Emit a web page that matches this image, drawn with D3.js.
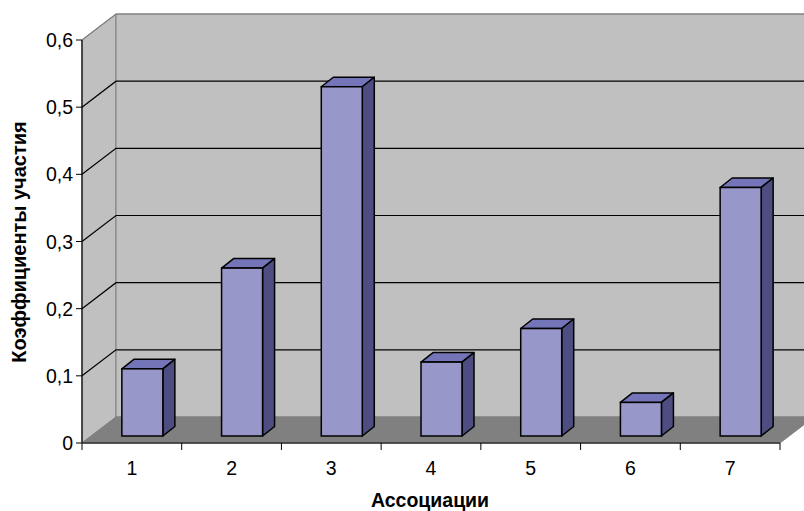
<!DOCTYPE html>
<html><head><meta charset="utf-8">
<script src="https://cdn.jsdelivr.net/npm/d3@7"></script>
<style>body{margin:0;background:#fff}svg{display:block}text{font-family:"Liberation Sans",Arial,sans-serif}</style>
</head><body>
<svg id="c" width="804" height="511"></svg>
<script>
const categories = ["1","2","3","4","5","6","7"];
const values = [0.10, 0.25, 0.52, 0.11, 0.16, 0.05, 0.37];
const yTicks = [0, 0.1, 0.2, 0.3, 0.4, 0.5, 0.6];
const yTickLabels = ["0","0,1","0,2","0,3","0,4","0,5","0,6"];
const xTitle = "Ассоциации";
const yTitle = "Коэффициенты участия";

const svg = d3.select("#c");
const x0 = 82, x1 = 780, yTop = 40, yBase = 443;
const DX = 34, DY = -26;           // wall depth
const y = d3.scaleLinear().domain([0, 0.6]).range([yBase, yTop]);
const x = d3.scaleBand().domain(categories).range([x0, x1]).paddingInner(0).paddingOuter(0);
const bw = x.bandwidth();
const barW = 41, bOff = {dx:10.5, dy:-7}, bDep = {dx:12, dy:-9.5};

// walls
svg.append("polygon").attr("points",[[x0,yTop],[x0+DX,yTop+DY],[x0+DX,yBase+DY],[x0,yBase]].join(" "))
  .attr("fill","#c0c0c0").attr("stroke","#808080");
svg.append("polygon").attr("points",[[x0+DX,yTop+DY],[x1+DX,yTop+DY],[x1+DX,yBase+DY],[x0+DX,yBase+DY]].join(" "))
  .attr("fill","#c0c0c0").attr("stroke","#808080");
svg.append("polygon").attr("points",[[x0,yBase],[x0+DX,yBase+DY],[x1+DX,yBase+DY],[x1,yBase]].join(" "))
  .attr("fill","#808080").attr("stroke","#808080");

// gridlines
yTicks.filter(t=>t>0).forEach(t=>{
  const yy = y(t);
  const col = t===0.6 ? "#808080" : "#000";
  svg.append("polyline").attr("points",[[x0,yy],[x0+DX,yy+DY],[x1+DX,yy+DY]].join(" "))
    .attr("fill","none").attr("stroke",col).attr("stroke-width",1.2);
});

// bars
const g = svg.append("g");
categories.forEach((c,i)=>{
  const left = x(c) + bw/2 + bOff.dx - barW/2;
  const bot = yBase + bOff.dy;
  const top = bot - (y(0) - y(values[i]));
  const right = left + barW;
  g.append("polygon").attr("points",[[left,top],[left+bDep.dx,top+bDep.dy],[right+bDep.dx,top+bDep.dy],[right,top]].join(" "))
    .attr("fill","#7474b8").attr("stroke","#000").attr("stroke-width",1.5).attr("stroke-linejoin","round");
  g.append("polygon").attr("points",[[right,top],[right+bDep.dx,top+bDep.dy],[right+bDep.dx,bot+bDep.dy],[right,bot]].join(" "))
    .attr("fill","#4d4d82").attr("stroke","#000").attr("stroke-width",1.5).attr("stroke-linejoin","round");
  g.append("rect").attr("x",left).attr("y",top).attr("width",barW).attr("height",bot-top)
    .attr("fill","#9797c9").attr("stroke","#000").attr("stroke-width",1.5);
});

// y axis
svg.append("line").attr("x1",x0).attr("x2",x0).attr("y1",yTop).attr("y2",yBase).attr("stroke","#000").attr("stroke-width",1.2);
yTicks.forEach((t,i)=>{
  svg.append("line").attr("x1",x0-6).attr("x2",x0).attr("y1",y(t)).attr("y2",y(t)).attr("stroke","#000");
  svg.append("text").attr("x",x0-9).attr("y",y(t)).attr("dy","0.36em").attr("text-anchor","end")
    .attr("font-size",19.5).text(yTickLabels[i]);
});
// x axis
svg.append("line").attr("x1",x0).attr("x2",x1).attr("y1",yBase).attr("y2",yBase).attr("stroke","#333").attr("stroke-width",1.5);
categories.concat(["_end"]).forEach((c,i)=>{
  const xx = x0 + i*bw;
  svg.append("line").attr("x1",xx).attr("x2",xx).attr("y1",yBase).attr("y2",yBase+7).attr("stroke","#000");
});
categories.forEach(c=>{
  svg.append("text").attr("x",x(c)+bw/2).attr("y",475).attr("text-anchor","middle").attr("font-size",19.5).text(c);
});
svg.append("text").attr("x",430).attr("y",507).attr("text-anchor","middle").attr("font-size",19.5).attr("font-weight","bold").text(xTitle);
svg.append("text").attr("transform","translate(26,242) rotate(-90)").attr("text-anchor","middle")
  .attr("font-size",20).attr("font-weight","bold").text(yTitle);
</script>
</body></html>
